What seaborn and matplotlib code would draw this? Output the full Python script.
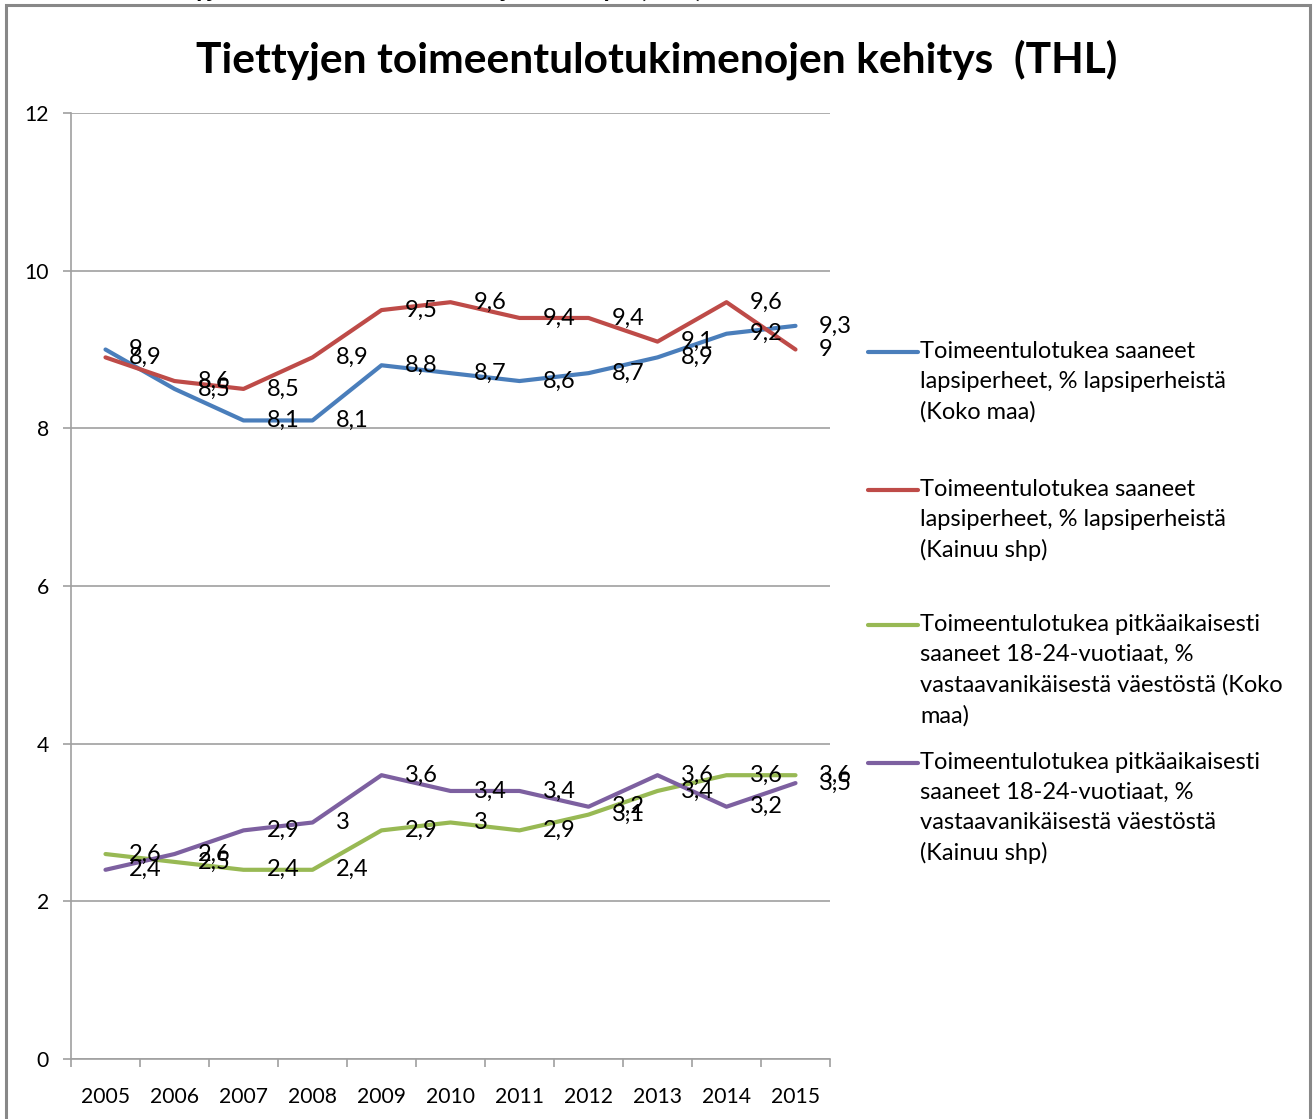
import numpy as np
import pandas as pd
import matplotlib
matplotlib.use("Agg")
import matplotlib.pyplot as plt
import seaborn as sns
from matplotlib.lines import Line2D
from matplotlib.patches import Rectangle

# ---- data ----
years = ["2005", "2006", "2007", "2008", "2009", "2010", "2011", "2012", "2013", "2014", "2015"]
koko_lapsi = [9.0, 8.5, 8.1, 8.1, 8.8, 8.7, 8.6, 8.7, 8.9, 9.2, 9.3]
kainuu_lapsi = [8.9, 8.6, 8.5, 8.9, 9.5, 9.6, 9.4, 9.4, 9.1, 9.6, 9.0]
koko_nuoret = [2.6, 2.5, 2.4, 2.4, 2.9, 3.0, 2.9, 3.1, 3.4, 3.6, 3.6]
kainuu_nuoret = [2.4, 2.6, 2.9, 3.0, 3.6, 3.4, 3.4, 3.2, 3.6, 3.2, 3.5]
series_names = [
    "Toimeentulotukea saaneet\nlapsiperheet, % lapsiperheistä\n(Koko maa)",
    "Toimeentulotukea saaneet\nlapsiperheet, % lapsiperheistä\n(Kainuu shp)",
    "Toimeentulotukea pitkäaikaisesti\nsaaneet 18-24-vuotiaat, %\nvastaavanikäisestä väestöstä (Koko\nmaa)",
    "Toimeentulotukea pitkäaikaisesti\nsaaneet 18-24-vuotiaat, %\nvastaavanikäisestä väestöstä\n(Kainuu shp)",
]
y_ticks = [0, 2, 4, 6, 8, 10, 12]
title = "Tiettyjen toimeentulotukimenojen kehitys  (THL)"

colors = ["#4A7EBB", "#BE4B48", "#98B954", "#7D60A0"]
all_vals = [koko_lapsi, kainuu_lapsi, koko_nuoret, kainuu_nuoret]

rows = []
for name, vals in zip(series_names, all_vals):
    for i, (yr, v) in enumerate(zip(years, vals)):
        rows.append({"pos": i, "year": yr, "value": v, "series": name})
df = pd.DataFrame(rows)

sns.set_theme(style="white")
plt.rcParams["font.family"] = ["Lato", "DejaVu Sans"]

W, H = 1314, 1119
fig = plt.figure(figsize=(W / 100, H / 100), dpi=100)
fig.patch.set_facecolor("white")

def fx(px):
    return px / W

def fy(py):
    return 1 - py / H

ax_left, ax_right, ax_top, ax_bottom = 71, 830, 113, 1059
ax = fig.add_axes([fx(ax_left), fy(ax_bottom), (ax_right - ax_left) / W, (ax_bottom - ax_top) / H])

sns.lineplot(data=df, x="pos", y="value", hue="series",
             palette=dict(zip(series_names, colors)), hue_order=series_names,
             linewidth=3.0, ax=ax, legend=False, sort=False)

ax.set_xlim(-0.5, len(years) - 0.5)
ax.set_ylim(0, 12)
ax.set_xlabel("")
ax.set_ylabel("")

grid_c = "#A0A0A0"
tick_fs = 15.2
label_fs = 17
ax.set_yticks(y_ticks)
ax.set_yticklabels([str(t) for t in y_ticks])
ax.yaxis.grid(True, color=grid_c, linewidth=1.2)
ax.xaxis.grid(False)
ax.set_axisbelow(True)
ax.set_xticks(range(len(years)))
ax.set_xticklabels(years)
ax.set_xticks(np.arange(-0.5, len(years)), minor=True)
ax.tick_params(axis="x", which="major", length=0, pad=20, labelsize=tick_fs, colors="#000000")
ax.tick_params(axis="x", which="minor", length=6, width=1.2, color=grid_c, direction="out", bottom=True)
ax.tick_params(axis="y", which="major", length=6, width=1.2, color=grid_c, direction="out", left=True,
               pad=10, labelsize=tick_fs, labelcolor="#000000")
for s in ["top", "right"]:
    ax.spines[s].set_visible(False)
for s in ["left", "bottom"]:
    ax.spines[s].set_color(grid_c)
    ax.spines[s].set_linewidth(1.2)

# data labels (right of points)
for vals in all_vals:
    for i, v in enumerate(vals):
        ax.annotate(f"{v:g}".replace(".", ","), (i, v), xytext=(17, 0), textcoords="offset points",
                    ha="left", va="center", fontsize=label_fs, color="#000000")

# title
fig.text(0.5, fy(60), title, ha="center", va="center", fontsize=30.6, fontweight="bold", color="#000000")
# clipped text remnant at very top
fig.text(fx(139), fy(-3), title, ha="left", va="baseline", fontsize=18.6, fontweight="bold", color="#000000")

# legend drawn manually
leg_y = [352, 490, 625, 763]
for name, c, yy in zip(series_names, colors, leg_y):
    fig.add_artist(Line2D([fx(868), fx(918)], [fy(yy), fy(yy)], color=c, linewidth=3.0,
                          transform=fig.transFigure))
    fig.text(fx(920), fy(yy - 11), name, ha="left", va="top", fontsize=label_fs, linespacing=1.52,
             color="#000000")

# outer chart border
fig.add_artist(Rectangle((fx(6), fy(1200)), fx(1310 - 6), (1200 - 5) / H, fill=False,
                         edgecolor="#888888", linewidth=2.2, transform=fig.transFigure, clip_on=False))

fig.savefig("out.png", dpi=100, facecolor="white")
